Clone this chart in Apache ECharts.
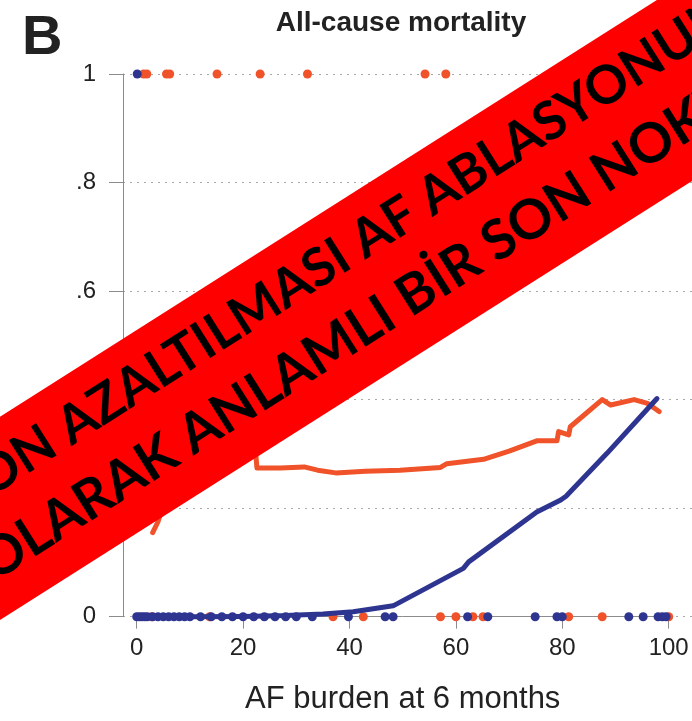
<!DOCTYPE html>
<html>
<head>
<meta charset="utf-8">
<script src="https://cdn.jsdelivr.net/npm/echarts@6/dist/echarts.min.js"></script>
<style>
  html, body { margin: 0; padding: 0; background: #ffffff; }
  #chart { width: 692px; height: 721px; }
</style>
</head>
<body>
<div id="chart"></div>
<script>
// Axis ticks
const xTickValues = [0, 20, 40, 60, 80, 100];
const yTickValues = [0, 0.2, 0.4, 0.6, 0.8, 1];
const yTickLabels = ['0', '.2', '.4', '.6', '.8', '1'];

// Smoothed mortality curves (AF burden %, probability)
const orangeCurveX = [3, 4, 5.5, 8, 12, 17, 22.3, 22.6, 27, 31.5, 34, 37.4, 43, 49.5, 57.1, 58.3, 65.2, 70, 75.2, 79.0, 79.3, 81.2, 81.5, 87.5, 89.1, 93.5, 96.0, 98.2];
const orangeCurveY = [0.155, 0.175, 0.22, 0.28, 0.31, 0.31, 0.31, 0.274, 0.274, 0.276, 0.27, 0.265, 0.268, 0.27, 0.275, 0.282, 0.29, 0.305, 0.324, 0.324, 0.341, 0.335, 0.35, 0.4, 0.39, 0.4, 0.393, 0.378];
const navyCurveX = [0, 10, 20, 28, 35, 40.7, 48.2, 61.4, 62.4, 75.2, 79.7, 80.7, 88.4, 97.8];
const navyCurveY = [0, 0, 0.0005, 0.002, 0.005, 0.009, 0.02, 0.089, 0.101, 0.193, 0.215, 0.222, 0.301, 0.402];

// Individual outcomes: deaths plotted at 1, survivors at 0
const orangeDeathsX = [1.3, 1.9, 5.6, 6.2, 15.1, 23.2, 32.1, 54.2, 58.1];
const navyDeathsX = [0.1];
const orangeAliveX = [2.8, 13.7, 36.9, 42.6, 57.1, 60.0, 63.2, 65.1, 81.2, 87.5, 100];
const navyAliveX = [0, 0.5, 1, 1.5, 2, 3, 4, 5, 6, 7, 8, 9, 10, 12, 14, 16, 18, 20, 22, 24, 26, 28, 30, 33, 39.8, 46.7, 48.2, 62.2, 66.0, 74.9, 79.0, 80.0, 92.5, 95.2, 98.0, 98.8, 99.5];

// Threshold of AF burden
const burdenCutoff = 50;

// Overlay banner text
const bannerLine1Head = 'ATRİYAL FİBRİLASYON ';
const bannerLine1Tail = 'AZALTILMASI AF ABLASYONUNUN';
const bannerLine2Head = 'KLİNİK OLARAK ';
const bannerLine2Tail = 'ANLAMLI BİR SON NOKTASIDIR';

const NAVY = '#2e3590';
const ORANGE = '#f0522a';
const AXIS_GREY = '#8c8c8c';
const TEXT = '#222222';
const FONT = '"Liberation Sans", Arial, sans-serif';
const BANNER_FONT = 'Lato, "Open Sans", sans-serif';

const zip = (xs, ys) => xs.map((x, i) => [x, ys[i]]);
const atLevel = (xs, level) => xs.map(x => [x, level]);

const chart = echarts.init(document.getElementById('chart'), null, { renderer: 'canvas' });

const bannerText = (text, x, y, align, size) => ({
  type: 'text', x: x, y: y, z: 101,
  style: { text: text, fontSize: size, fontWeight: 'bold', fill: '#000',
    fontFamily: BANNER_FONT, align: align, verticalAlign: 'middle' }
});

const option = {
  backgroundColor: '#ffffff',
  animation: false,
  textStyle: { fontFamily: FONT },
  grid: [
    { left: 123, right: 0, top: 74, height: 542.7 },
    { left: 136.7, right: 23.3, top: 74, height: 542.7 }
  ],
  xAxis: [
    { gridIndex: 0, type: 'value', min: 0, max: 1, show: false },
    {
      gridIndex: 1, type: 'value', min: 0, max: 100, interval: 20, offset: 5,
      axisLine: { show: true, lineStyle: { color: AXIS_GREY, width: 1 } },
      axisTick: { show: true, length: 12, lineStyle: { color: AXIS_GREY, width: 1 } },
      axisLabel: { fontSize: 24, color: TEXT, margin: 15, fontFamily: FONT,
        customValues: xTickValues },
      splitLine: { show: false },
      name: 'AF burden at 6 months', nameLocation: 'middle', nameGap: 62,
      nameTextStyle: { fontSize: 31, color: TEXT, fontFamily: FONT }
    }
  ],
  yAxis: [
    {
      gridIndex: 0, type: 'value', min: 0, max: 1, interval: 0.2, offset: 5,
      axisLine: { show: true, lineStyle: { color: AXIS_GREY, width: 1 } },
      axisTick: { show: true, length: 14, lineStyle: { color: AXIS_GREY, width: 1 } },
      axisLabel: {
        fontSize: 24, color: TEXT, margin: 22, fontFamily: FONT,
        formatter: v => {
          const i = yTickValues.findIndex(t => Math.abs(t - v) < 1e-6);
          return i >= 0 ? yTickLabels[i] : '';
        }
      },
      splitLine: { show: true, lineStyle: { color: '#a8a8a8', width: 1, type: [2, 5] } }
    },
    { gridIndex: 1, type: 'value', min: 0, max: 1, show: false }
  ],
  series: [
    {
      name: 'orange outcomes', type: 'scatter', xAxisIndex: 1, yAxisIndex: 1,
      data: atLevel(orangeDeathsX, 1).concat(atLevel(orangeAliveX, 0)),
      symbolSize: 9, itemStyle: { color: ORANGE, opacity: 1 }, clip: false, z: 2,
      markLine: {
        silent: true, symbol: 'none', label: { show: false },
        lineStyle: { color: '#7a7a7a', width: 1.3, type: [14, 7] },
        data: [[{ coord: [burdenCutoff, 1.012] }, { coord: [burdenCutoff, -0.01] }]]
      }
    },
    {
      name: 'navy outcomes', type: 'scatter', xAxisIndex: 1, yAxisIndex: 1,
      data: atLevel(navyDeathsX, 1).concat(atLevel(navyAliveX, 0)),
      symbolSize: 9, itemStyle: { color: NAVY, opacity: 1 }, clip: false, z: 3
    },
    {
      name: 'orange curve', type: 'line', xAxisIndex: 1, yAxisIndex: 1,
      data: zip(orangeCurveX, orangeCurveY), showSymbol: false, clip: false,
      lineStyle: { color: ORANGE, width: 5, join: 'round', cap: 'round' }, z: 4
    },
    {
      name: 'navy curve', type: 'line', xAxisIndex: 1, yAxisIndex: 1,
      data: zip(navyCurveX, navyCurveY), showSymbol: false, clip: false,
      lineStyle: { color: NAVY, width: 5, join: 'round', cap: 'round' }, z: 5
    }
  ],
  graphic: [
    {
      type: 'text', left: 22, top: 11, z: 50,
      style: { text: 'B', fontSize: 56, fontWeight: 'bold', fill: TEXT, fontFamily: FONT }
    },
    {
      type: 'text', x: 401, y: 23, z: 50,
      style: { text: 'All-cause mortality', fontSize: 28, fontWeight: 'bold', fill: TEXT,
        fontFamily: FONT, align: 'center', verticalAlign: 'middle' }
    },
    {
      type: 'group', x: 346, y: 298.9, rotation: 32.4 * Math.PI / 180, z: 100,
      children: [
        { type: 'rect', shape: { x: -800, y: -85.8, width: 1600, height: 171.6 },
          style: { fill: '#ff0000' }, z: 100 },
        bannerText(bannerLine1Head, -311, -40, 'right', 53),
        bannerText(bannerLine1Tail, -311, -40, 'left', 53),
        bannerText(bannerLine2Head, -213, 33, 'right', 55),
        bannerText(bannerLine2Tail, -213, 33, 'left', 55)
      ]
    }
  ]
};

chart.setOption(option);
</script>
</body>
</html>
